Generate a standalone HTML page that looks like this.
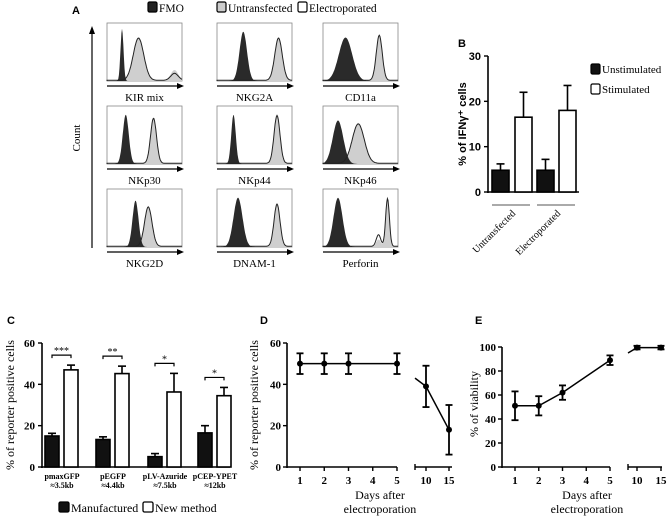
<!DOCTYPE html>
<html><head><meta charset="utf-8"><style>
body{margin:0;background:#fff}
svg{display:block}
.s{font-family:"Liberation Serif",serif}
.a{font-family:"Liberation Sans",sans-serif}
</style></head><body>
<svg id="fig" width="669" height="517" viewBox="0 0 669 517"></svg>
<script>
// ---- Panel A histogram data (peak position, width, height in 0..1 box units)
const histLabels=["KIR mix","NKG2A","CD11a","NKp30","NKp44","NKp46","NKG2D","DNAM-1","Perforin"];
const fmoPeaks=[[0.2,0.02,0.9],[0.35,0.05,0.85],[0.3,0.09,0.75],[0.25,0.04,0.85],[0.22,0.03,0.85],[0.2,0.07,0.75],[0.38,0.04,0.8],[0.28,0.06,0.85],[0.2,0.06,0.85]];
const untPeaks=[[0.42,0.07,0.75],[0.82,0.05,0.75],[0.75,0.04,0.8],[0.62,0.04,0.8],[0.8,0.04,0.85],[0.47,0.08,0.7],[0.55,0.05,0.7],[0.8,0.04,0.75],[0.86,0.025,0.85]];
const untExtra=[[0.9,0.05,0.18],null,null,null,null,null,null,null,[0.74,0.03,0.12]];
const eleExtra=[[0.9,0.05,0.12],null,null,null,null,null,null,null,[0.74,0.03,0.2]];
// ---- Panel B
const bGroups=["Untransfected","Electroporated"];
const bUnstim=[4.8,4.8], bUnstimErr=[6.2,7.2];
const bStim=[16.5,18], bStimErr=[22,23.5];
const bTicks=[0,10,20,30];
// ---- Panel C
const cCats=["pmaxGFP","pEGFP","pLV-Azuride","pCEP-YPET"];
const cSizes=["≈3.5kb","≈4.4kb","≈7.5kb","≈12kb"];
const cManu=[15,13.3,5,16.5], cManuErr=[16.3,14.6,6.5,20];
const cNew=[47,45.2,36.3,34.5], cNewErr=[49.3,48.8,45.3,38.5];
const cSig=["***","**","*","*"];
const cTicks=[0,20,40,60];
// ---- Panel D
const dDays=[1,2,3,5,10,15];
const dVals=[50,50,50,50,39,18], dErr=[5,5,5,5,10,12];
const dTicks=[0,20,40,60];
// ---- Panel E
const eDays=[1,2,3,5,10,15];
const eVals=[51,51,62,89,99.5,99.5], eErr=[12,8,6,4,1.5,1.5];
const eTicks=[0,20,40,60,80,100];

const NS="http://www.w3.org/2000/svg", svg=document.getElementById('fig');
function el(tag,attrs,parent,text){const e=document.createElementNS(NS,tag);for(const k in attrs)e.setAttribute(k,attrs[k]);if(text!==undefined)e.textContent=text;(parent||svg).appendChild(e);return e;}
function ln(x1,y1,x2,y2,w,p){return el('line',{x1,y1,x2,y2,stroke:'#000','stroke-width':w||1.6},p);}
function g(name){const e=el('g',{});return e;}
function txt(p,x,y,s,cls,size,anchor,extra){const t=el('text',Object.assign({x,y,class:cls,'font-size':size,'text-anchor':anchor||'middle'},extra||{}),p,s);return t;}

// ===== Panel A =====
const A=g('panel-a');
txt(A,72,14,'A','a',11,'start',{'font-weight':'bold'});
const legA=[[148,'#222','FMO'],[217,'#ccc','Untransfected'],[298,'#fff','Electroporated']];
legA.forEach(l=>{const lg=el('g',{},A);
 el('rect',{x:l[0],y:2,width:9,height:10,rx:1.5,fill:l[1],stroke:'#000','stroke-width':1.2},lg);
 txt(lg,l[0]+11,12,l[2],'s',11.5,'start');});
const cnt=g('count-axis');A.appendChild(cnt);
ln(92,248,92,30,1.2,cnt);el('path',{d:'M92,26 L89,34 L95,34 Z',fill:'#000'},cnt);
txt(cnt,80,138,'Count','s',11,'middle',{transform:'rotate(-90 80 138)'});
const colX=[107,217,323], rowY=[23,106,189], bw=75, bh=58;
function gauss(x,p){return p?p[2]*Math.exp(-0.5*Math.pow((x-p[0])/p[1],2)):0;}
histLabels.forEach((lab,i)=>{
 const x0=colX[i%3], y0=rowY[Math.floor(i/3)];
 const hg=el('g',{},A);
 el('rect',{x:x0,y:y0,width:bw,height:bh,fill:'#fff',stroke:'#888','stroke-width':0.8},hg);
 const N=120;
 function path(fn,close){let d='M'+x0+','+(y0+bh);for(let k=0;k<=N;k++){const u=k/N;d+=' L'+(x0+u*bw).toFixed(1)+','+(y0+bh-fn(u)*bh).toFixed(1);}if(close)d+=' L'+(x0+bw)+','+(y0+bh)+' Z';return d;}
 const f1=u=>gauss(u,untPeaks[i])+gauss(u,untExtra[i])+0.01;
 const f2=u=>gauss(u,untPeaks[i])*0.97+gauss(u,eleExtra[i])+0.012;
 el('path',{d:path(f1,true),fill:'#cfcfcf',stroke:'none'},hg);
 el('path',{d:path(u=>gauss(u,fmoPeaks[i]),true),fill:'#2a2a2a'},hg);
 el('path',{d:path(f2,false),fill:'none',stroke:'#222','stroke-width':1},hg);
 ln(x0,y0+bh+5,x0+bw-3,y0+bh+5,1.2,hg);el('path',{d:`M${x0+bw+2},${y0+bh+5} l-7,-3 v6 Z`,fill:'#000'},hg);
 txt(hg,x0+bw/2,y0+bh+20,lab,'s',11);
});

// ===== Panel B =====
const B=g('panel-b');
txt(B,458,47,'B','a',11,'start',{'font-weight':'bold'});
const by=v=>192-v*136/30;
ln(488,by(30),488,193,1.6,B);ln(487,192,579,192,1.6,B);
bTicks.forEach(t=>{ln(484,by(t),488,by(t),1.4,B);txt(B,481,by(t)+4,t,'a',11,'end',{'font-weight':'bold'});});
txt(B,466,124,'% of IFNγ⁺ cells','a',11,'middle',{'font-weight':'bold',transform:'rotate(-90 466 124)'});
const bX=[[492,515],[537,559]];
bGroups.forEach((gname,i)=>{
 [[bUnstim,bUnstimErr,'#111',0],[bStim,bStimErr,'#fff',1]].forEach(s=>{
  const x=bX[i][s[3]],w=17,v=s[0][i],e=s[1][i];
  const r=el('rect',{x,y:by(v),width:w,height:192-by(v),fill:s[2],stroke:'#000','stroke-width':1.6},B);
  
  ln(x+w/2,by(v),x+w/2,by(e),1.6,B);ln(x+w/2-4,by(e),x+w/2+4,by(e),1.6,B);
 });
 ln(bX[i][0],205,bX[i][0]+38,205,1,B).setAttribute('stroke','#555');
 const cx=bX[i][0]+20;
 txt(B,cx+4,214,gname,'s',10,'end',{transform:`rotate(-45 ${cx+4} 214)`});
});
[[68,'#111','Unstimulated'],[88,'#fff','Stimulated']].forEach(l=>{const lg=el('g',{},B);
 el('rect',{x:591,y:l[0]-4,width:9,height:10,rx:1.5,fill:l[1],stroke:'#000','stroke-width':1.2},lg);txt(lg,602,l[0]+5,l[2],'s',11,'start');});

// ===== Panel C =====
const C=g('panel-c');
txt(C,7,324,'C','a',11,'start',{'font-weight':'bold'});
const cy=v=>467-v*124/60;
ln(42,cy(60),42,468,1.6,C);ln(41,467,230,467,1.6,C);
cTicks.forEach(t=>{ln(38,cy(t),42,cy(t),1.4,C);txt(C,35,cy(t)+4,t,'s',11,'end',{'font-weight':'bold'});});
txt(C,14,405,'% of reporter positive cells','s',12,'middle',{transform:'rotate(-90 14 405)'});
const cStart=[45,96,148,198];
cCats.forEach((c,i)=>{
 const x1=cStart[i],x2=x1+19,w=14;
 [[x1,cManu[i],cManuErr[i],'#111','bar-manufactured-'],[x2,cNew[i],cNewErr[i],'#fff','bar-new-method-']].forEach(s=>{
  const r=el('rect',{x:s[0],y:cy(s[1]),width:w,height:467-cy(s[1]),fill:s[3],stroke:'#000','stroke-width':1.6},C);
  
  ln(s[0]+w/2,cy(s[1]),s[0]+w/2,cy(s[2]),1.6,C);ln(s[0]+w/2-4,cy(s[2]),s[0]+w/2+4,cy(s[2]),1.6,C);
 });
 const sy=cy(cNewErr[i])-10;
 el('path',{d:`M${x1+7},${sy+3} V${sy} H${x2+7} V${sy+3}`,fill:'none',stroke:'#000','stroke-width':1.2},C);
 txt(C,(x1+x2+14)/2,sy-1,cSig[i],'s',10);
 txt(C,x1+17,479,c,'s',8,'middle',{'font-weight':'bold'});
 txt(C,x1+17,488,cSizes[i],'s',8,'middle',{'font-weight':'bold'});
});
[[59,'#111','Manufactured'],[143,'#fff','New method']].forEach(l=>{const lg=el('g',{},C);
 el('rect',{x:l[0],y:502,width:10,height:10,rx:1.5,fill:l[1],stroke:'#000','stroke-width':1.3},lg);txt(lg,l[0]+12,512,l[2],'s',12,'start');});

// ===== broken-axis line chart helper =====
function brokenChart(P,days,vals,err,ticks,ymax,axX,y0,yTop,seg1,seg2,xs1,xs2,startV){
 const yv=v=>y0-v*(y0-yTop)/ymax;
 const xd=d=>d<=5?xs1[0]+(d-1)*(xs1[1]-xs1[0])/4:xs2[0]+(d-10)*(xs2[1]-xs2[0])/5;
 ln(axX,yTop,axX,y0+1,1.6,P);
 ticks.forEach(t=>{ln(axX-4,yv(t),axX,yv(t),1.4,P);txt(P,axX-6,yv(t)+4,t,'s',11,'end',{'font-weight':'bold'});});
 ln(axX,y0,seg1,y0,1.6,P);ln(seg2[0],y0,seg2[1],y0,1.6,P);ln(seg2[0],y0-3,seg2[0],y0+3,1.4,P);
 [1,2,3,4,5,10,15].forEach(d=>{ln(xd(d),y0,xd(d),y0+4,1.4,P);txt(P,xd(d),y0+17,d,'s',11,'middle',{'font-weight':'bold'});});
 let d1='',d2='M'+seg2[0]+','+yv(startV);
 days.forEach((d,i)=>{if(d<=5)d1+=(d1?' L':'M')+xd(d)+','+yv(vals[i]);else d2+=' L'+xd(d)+','+yv(vals[i]);});
 el('path',{d:d1,fill:'none',stroke:'#000','stroke-width':1.5},P);el('path',{d:d2,fill:'none',stroke:'#000','stroke-width':1.5},P);
 days.forEach((d,i)=>{const x=xd(d);
  ln(x,yv(vals[i]+err[i]),x,yv(vals[i]-err[i]),1.8,P);ln(x-3.5,yv(vals[i]+err[i]),x+3.5,yv(vals[i]+err[i]),1.8,P);ln(x-3.5,yv(vals[i]-err[i]),x+3.5,yv(vals[i]-err[i]),1.8,P);
  const c=el('circle',{cx:x,cy:yv(vals[i]),r:3,fill:'#000'},P);});
}
const D=g('panel-d');
txt(D,260,324,'D','a',11,'start',{'font-weight':'bold'});
brokenChart(D,dDays,dVals,dErr,dTicks,60,287,467,343,397,[415,452],[300,397],[426,449],43);
txt(D,258,405,'% of reporter positive cells','s',12,'middle',{transform:'rotate(-90 258 405)'});
txt(D,380,499,'Days after','s',12);txt(D,380,513,'electroporation','s',12);
const E=g('panel-e');
txt(E,475,324,'E','a',11,'start',{'font-weight':'bold'});
brokenChart(E,eDays,eVals,eErr,eTicks,100,502,467,347,610,[628,662],[515,610],[637,661],95);
txt(E,478,404,'% of viability','s',12,'middle',{transform:'rotate(-90 478 404)'});
txt(E,587,499,'Days after','s',12);txt(E,587,513,'electroporation','s',12);
</script>
</body></html>
